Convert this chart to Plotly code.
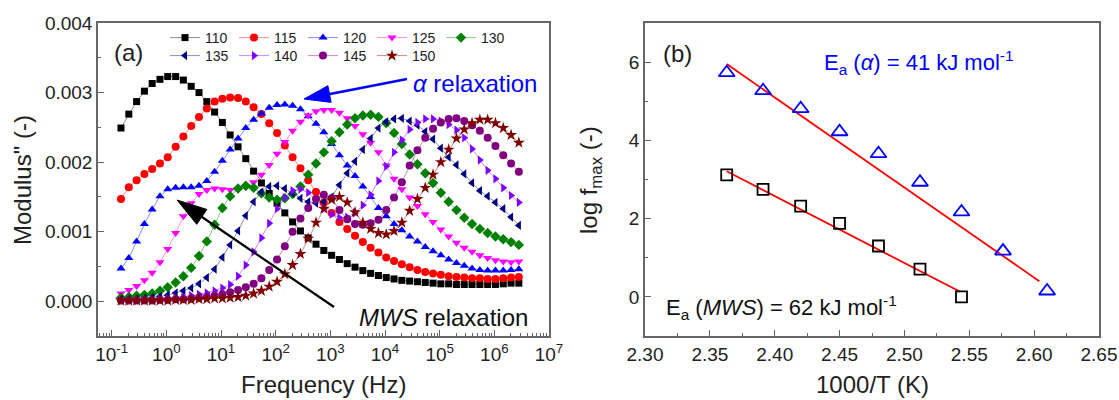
import math
import plotly.graph_objects as go

W, H = 1119, 400
FONT = "Liberation Sans, Arial, sans-serif"

# ---------------- data: panel (a) ----------------
freq = [0.148, 0.206, 0.286, 0.397, 0.551, 0.765, 1.06, 1.48, 2.05, 2.85,
        3.96, 5.50, 7.64, 10.6, 14.7, 20.5, 28.4, 39.5, 54.8, 76.2,
        106, 147, 204, 284, 394, 547, 760, 1056, 1467, 2037,
        2830, 3931, 5460, 7584, 10535, 14633, 20325, 28232, 39214, 54468,
        75657, 105088, 145967, 202748, 281617, 391166, 543330, 754686, 1048270, 1456050,
        2022450, 2809200]

temps = ["110", "115", "120", "125", "130", "135", "140", "145", "150"]

m110 = [0.00249, 0.00269, 0.00287, 0.00302, 0.00313, 0.00319, 0.00323, 0.00323, 0.00318, 0.00309,
        0.00300, 0.00287, 0.00272, 0.00257, 0.00239, 0.00222, 0.00205, 0.00187, 0.00170, 0.00155,
        0.00141, 0.00127, 0.00114, 0.00101, 0.00091, 0.00082, 0.00073, 0.00066, 0.00060, 0.00054,
        0.00049, 0.00044, 0.00040, 0.00037, 0.00034, 0.00032, 0.00030, 0.00029, 0.00028, 0.00027,
        0.00026, 0.00025, 0.00025, 0.00024, 0.00024, 0.00024, 0.00024, 0.00024, 0.00024, 0.00025,
        0.00026, 0.00026]
m115 = [0.00147, 0.00164, 0.00174, 0.00183, 0.00190, 0.00198, 0.00207, 0.00222, 0.00237, 0.00252,
        0.00265, 0.00277, 0.00287, 0.00291, 0.00293, 0.00292, 0.00287, 0.00279, 0.00269, 0.00256,
        0.00242, 0.00224, 0.00207, 0.00191, 0.00174, 0.00157, 0.00142, 0.00127, 0.00114, 0.00104,
        0.00094, 0.00085, 0.00077, 0.00070, 0.00063, 0.00058, 0.00053, 0.00049, 0.00045, 0.00042,
        0.00040, 0.00038, 0.00036, 0.00035, 0.00034, 0.00033, 0.00033, 0.00032, 0.00032, 0.00033,
        0.00034, 0.00035]
m120 = [0.00047, 0.00062, 0.00086, 0.00111, 0.00132, 0.00151, 0.00161, 0.00163, 0.00164, 0.00164,
        0.00166, 0.00173, 0.00186, 0.00202, 0.00218, 0.00234, 0.00249, 0.00261, 0.00270, 0.00278,
        0.00282, 0.00283, 0.00281, 0.00276, 0.00266, 0.00255, 0.00243, 0.00226, 0.00210, 0.00195,
        0.00180, 0.00165, 0.00150, 0.00134, 0.00122, 0.00111, 0.00102, 0.00093, 0.00086, 0.00078,
        0.00072, 0.00066, 0.00060, 0.00055, 0.00051, 0.00047, 0.00045, 0.00044, 0.00044, 0.00044,
        0.00045, 0.00046]
m125 = [0.00011, 0.00016, 0.00022, 0.00030, 0.00041, 0.00056, 0.00075, 0.00098, 0.00122, 0.00141,
        0.00154, 0.00160, 0.00162, 0.00161, 0.00160, 0.00161, 0.00164, 0.00171, 0.00182, 0.00196,
        0.00212, 0.00229, 0.00245, 0.00258, 0.00267, 0.00273, 0.00275, 0.00275, 0.00271, 0.00263,
        0.00252, 0.00240, 0.00228, 0.00214, 0.00195, 0.00176, 0.00161, 0.00149, 0.00137, 0.00125,
        0.00114, 0.00103, 0.00093, 0.00084, 0.00077, 0.00071, 0.00066, 0.00062, 0.00059, 0.00057,
        0.00056, 0.00057]
m130 = [0.00005, 0.00006, 0.00008, 0.00009, 0.00011, 0.00015, 0.00020, 0.00027, 0.00036, 0.00048,
        0.00065, 0.00086, 0.00110, 0.00134, 0.00151, 0.00162, 0.00166, 0.00163, 0.00155, 0.00149,
        0.00146, 0.00148, 0.00154, 0.00165, 0.00182, 0.00198, 0.00214, 0.00230, 0.00243, 0.00254,
        0.00263, 0.00267, 0.00268, 0.00265, 0.00256, 0.00242, 0.00226, 0.00211, 0.00197, 0.00184,
        0.00170, 0.00156, 0.00143, 0.00131, 0.00120, 0.00111, 0.00104, 0.00098, 0.00093, 0.00089,
        0.00085, 0.00081]
m135 = [0.00002, 0.00003, 0.00003, 0.00004, 0.00005, 0.00007, 0.00009, 0.00012, 0.00015, 0.00019,
        0.00025, 0.00034, 0.00046, 0.00063, 0.00081, 0.00101, 0.00123, 0.00143, 0.00157, 0.00165,
        0.00166, 0.00162, 0.00155, 0.00148, 0.00143, 0.00141, 0.00143, 0.00150, 0.00167, 0.00184,
        0.00201, 0.00218, 0.00234, 0.00249, 0.00258, 0.00262, 0.00263, 0.00259, 0.00253, 0.00244,
        0.00233, 0.00220, 0.00207, 0.00196, 0.00183, 0.00170, 0.00159, 0.00151, 0.00142, 0.00133,
        0.00121, 0.00109]
m140 = [0.00001, 0.00001, 0.00001, 0.00002, 0.00002, 0.00003, 0.00004, 0.00005, 0.00006, 0.00008,
        0.00010, 0.00012, 0.00015, 0.00019, 0.00024, 0.00036, 0.00052, 0.00071, 0.00091, 0.00112,
        0.00133, 0.00149, 0.00159, 0.00161, 0.00156, 0.00145, 0.00133, 0.00125, 0.00120, 0.00121,
        0.00127, 0.00138, 0.00153, 0.00173, 0.00194, 0.00214, 0.00232, 0.00247, 0.00257, 0.00262,
        0.00262, 0.00259, 0.00254, 0.00246, 0.00235, 0.00219, 0.00203, 0.00188, 0.00176, 0.00163,
        0.00152, 0.00142]
m145 = [0.00001, 0.00001, 0.00001, 0.00001, 0.00001, 0.00002, 0.00002, 0.00003, 0.00003, 0.00004,
        0.00005, 0.00006, 0.00008, 0.00010, 0.00013, 0.00016, 0.00020, 0.00025, 0.00033, 0.00045,
        0.00060, 0.00079, 0.00100, 0.00119, 0.00134, 0.00147, 0.00153, 0.00148, 0.00131, 0.00118,
        0.00111, 0.00110, 0.00112, 0.00117, 0.00131, 0.00149, 0.00171, 0.00195, 0.00217, 0.00235,
        0.00248, 0.00257, 0.00262, 0.00263, 0.00259, 0.00253, 0.00245, 0.00235, 0.00223, 0.00210,
        0.00198, 0.00186]
m150 = [0.00001, 0.00001, 0.00001, 0.00001, 0.00001, 0.00001, 0.00001, 0.00002, 0.00002, 0.00002,
        0.00003, 0.00003, 0.00004, 0.00004, 0.00005, 0.00006, 0.00008, 0.00011, 0.00015, 0.00021,
        0.00028, 0.00039, 0.00052, 0.00068, 0.00090, 0.00113, 0.00133, 0.00146, 0.00150, 0.00142,
        0.00128, 0.00113, 0.00104, 0.00098, 0.00096, 0.00101, 0.00113, 0.00130, 0.00147, 0.00163,
        0.00182, 0.00200, 0.00218, 0.00234, 0.00247, 0.00256, 0.00261, 0.00261, 0.00256, 0.00249,
        0.00239, 0.00228]

x_tickvals = [0.1, 1, 10, 100, 1000, 10000, 100000, 1000000, 10000000]
x_ticktext = ["10<sup>-1</sup>", "10<sup>0</sup>", "10<sup>1</sup>", "10<sup>2</sup>", "10<sup>3</sup>",
              "10<sup>4</sup>", "10<sup>5</sup>", "10<sup>6</sup>", "10<sup>7</sup>"]

# ---------------- data: panel (b) ----------------
invT_alpha = [2.363, 2.391, 2.420, 2.450, 2.480, 2.512, 2.544, 2.576, 2.610]
logf_alpha = [5.73, 5.27, 4.81, 4.22, 3.66, 2.93, 2.17, 1.17, 0.15]
invT_mws = [2.363, 2.391, 2.420, 2.450, 2.480, 2.512, 2.544]
logf_mws = [3.12, 2.75, 2.32, 1.88, 1.30, 0.71, 0.00]
fit_alpha_x = [2.363, 2.604]
fit_alpha_y = [5.95, 0.40]
fit_mws_x = [2.363, 2.543]
fit_mws_y = [3.21, 0.13]

# ---------------- styles ----------------
series = [m110, m115, m120, m125, m130, m135, m140, m145, m150]
colors = ["#000000", "#FF0000", "#0000FF", "#FF00FF", "#008000",
          "#000080", "#8000FF", "#800080", "#800000"]
symbols = ["square", "circle", "triangle-up", "triangle-down", "diamond",
           "triangle-left", "triangle-right", "circle", "star"]
msizes = [7, 8, 8, 8, 8, 8, 8, 8, 9]


def rgba(hexc, a):
    h = hexc.lstrip("#")
    return "rgba(%d,%d,%d,%.2f)" % (int(h[0:2], 16), int(h[2:4], 16), int(h[4:6], 16), a)


def px(x):
    """window pixel x -> paper fraction"""
    return x / W


def py(y):
    """window pixel y (from top) -> paper fraction"""
    return 1 - y / H


fig = go.Figure()
for i, (t, vals, c, sym, sz) in enumerate(zip(temps, series, colors, symbols, msizes)):
    fig.add_trace(go.Scatter(
        x=freq, y=vals, mode="lines+markers", name=t,
        line=dict(color=rgba(c, 0.45), width=1),
        marker=dict(symbol=sym, size=sz, color=c, line=dict(width=0)),
        xaxis="x", yaxis="y",
        legend="legend" if i < 5 else "legend2"))

fig.add_trace(go.Scatter(x=fit_alpha_x, y=fit_alpha_y, mode="lines",
                         line=dict(color="#FF0000", width=1.8), showlegend=False,
                         xaxis="x2", yaxis="y2"))
fig.add_trace(go.Scatter(x=fit_mws_x, y=fit_mws_y, mode="lines",
                         line=dict(color="#FF0000", width=1.8), showlegend=False,
                         xaxis="x2", yaxis="y2"))
fig.add_trace(go.Scatter(x=invT_alpha, y=logf_alpha, mode="markers",
                         marker=dict(symbol="triangle-up-open", size=14, color="#0000FF",
                                     line=dict(width=1.8, color="#0000FF")),
                         showlegend=False, xaxis="x2", yaxis="y2"))
fig.add_trace(go.Scatter(x=invT_mws, y=logf_mws, mode="markers",
                         marker=dict(symbol="square-open", size=11, color="#000000",
                                     line=dict(width=1.8, color="#000000")),
                         showlegend=False, xaxis="x2", yaxis="y2"))

AX = "#666666"
TICKFONT = dict(family=FONT, size=19, color="#222222")
common = dict(showline=True, linecolor=AX, linewidth=1.5, mirror=True, showgrid=False,
              zeroline=False, ticks="inside", tickcolor=AX, tickwidth=1.2, ticklen=6,
              tickfont=TICKFONT, automargin=False, ticklabeloverflow="allow")

top_px, bot_px = 23, 336
LEG = dict(xanchor="left", yanchor="middle", orientation="h",
           entrywidth=24, entrywidthmode="pixels", itemwidth=30,
           font=dict(family=FONT, size=14, color="#222222"),
           bgcolor="rgba(0,0,0,0)", borderwidth=0)
fig.update_layout(
    width=W, height=H, margin=dict(l=0, r=0, t=0, b=0, autoexpand=False),
    paper_bgcolor="white", plot_bgcolor="white",
    font=dict(family=FONT, color="#222222"),
    xaxis=dict(domain=[px(98), px(549)], anchor="y", type="log", range=[-1.25, 7],
               tickmode="array", tickvals=x_tickvals, ticktext=x_ticktext,
               minor=dict(ticks="inside", ticklen=3, tickcolor=AX, dtick="D1"),
               **common),
    yaxis=dict(domain=[py(bot_px), py(top_px)], anchor="x", range=[-0.0005, 0.004],
               dtick=0.001, tickformat=".3f",
               minor=dict(ticks="inside", ticklen=3, tickcolor=AX, dtick=0.0005),
               **common),
    xaxis2=dict(domain=[px(645), px(1099)], anchor="y2", range=[2.30, 2.65],
                dtick=0.05, tickformat=".2f",
                minor=dict(ticks="inside", ticklen=3, tickcolor=AX, dtick=0.025),
                **common),
    yaxis2=dict(domain=[py(bot_px), py(top_px)], anchor="x2", range=[-1, 7],
                tickmode="array", tickvals=[0, 2, 4, 6],
                minor=dict(ticks="inside", ticklen=3, tickcolor=AX, dtick=1),
                **common),
    legend=dict(x=px(165), y=py(38), **LEG),
    legend2=dict(x=px(165), y=py(56), **LEG),
)

ann = []


def text(x, y, s, size, color="#222222", xanchor="center", angle=0):
    ann.append(dict(x=px(x), y=py(y), xref="paper", yref="paper", text=s, showarrow=False,
                    xanchor=xanchor, yanchor="middle", textangle=angle,
                    font=dict(family=FONT, size=size, color=color)))


text(128, 52, "(a)", 24)
text(411, 83, "<i>α</i> relaxation", 24, "#0000FF", "left")
text(357, 317, "<i>MWS</i> relaxation", 24, "#111111", "left")
text(677, 53, "(b)", 24)
text(822, 63, "E<sub>a</sub> (<i>α</i>) = 41 kJ mol<sup>-1</sup>", 22, "#0000FF", "left")
text(664, 307, "E<sub>a</sub> (<i>MWS</i>) = 62 kJ mol<sup>-1</sup>", 22, "#111111", "left")
text(23, 180, 'Modulus" (-)', 24, angle=-90)
text(323, 384, "Frequency (Hz)", 24)
text(591, 180, "log f<sub>max</sub> (-)", 24, angle=-90)
text(872, 384, "1000/T (K)", 24)

shapes = []


def arrow(tail, tip, L, Wd, color, lw):
    tx, ty = tail
    hx, hy = tip
    dx, dy = hx - tx, hy - ty
    d = math.hypot(dx, dy)
    ux, uy = dx / d, dy / d
    bx, by = hx - ux * L, hy - uy * L
    nx, ny = -uy, ux
    shapes.append(dict(type="line", xref="paper", yref="paper",
                       x0=px(tx), y0=py(ty), x1=px(bx + ux * 2), y1=py(by + uy * 2),
                       line=dict(color=color, width=lw)))
    p1 = (bx + nx * Wd / 2, by + ny * Wd / 2)
    p2 = (bx - nx * Wd / 2, by - ny * Wd / 2)
    path = "M %f,%f L %f,%f L %f,%f Z" % (px(hx), py(hy), px(p1[0]), py(p1[1]),
                                         px(p2[0]), py(p2[1]))
    shapes.append(dict(type="path", xref="paper", yref="paper", path=path,
                       fillcolor=color, line=dict(color=color, width=1)))


arrow((407, 79), (304, 99), 26, 17, "#0000FF", 2.5)
arrow((334, 307), (177, 200), 30, 18, "#000000", 2.2)

fig.update_layout(annotations=ann, shapes=shapes)
# remove the page's default body margin so the 1119x400 figure fills the window exactly
fig.write_html("out.html",
               config={"displayModeBar": False},
               post_script="document.body.style.margin='0';"
                           "document.body.style.overflow='hidden';")
